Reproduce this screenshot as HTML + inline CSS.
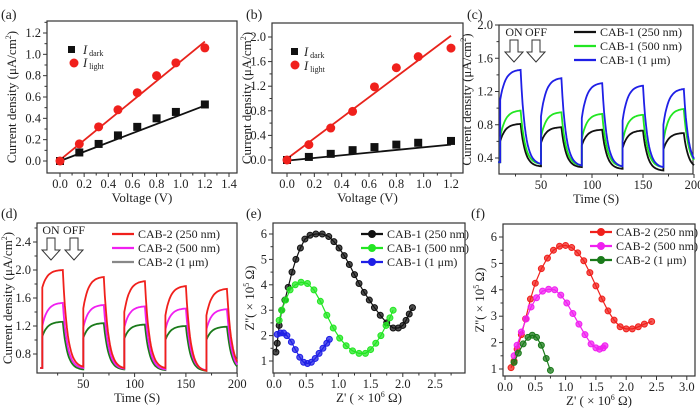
<!DOCTYPE html>
<html><head><meta charset="utf-8"><style>
html,body{margin:0;padding:0;background:#fff}
svg{display:block;font-family:"Liberation Serif",serif}
</style></head><body>
<svg id="fig" width="700" height="409" viewBox="0 0 700 409" xmlns="http://www.w3.org/2000/svg"></svg>
<script>
// ---- data ----
const voltA = [0,0.16,0.32,0.48,0.64,0.8,0.96,1.2];
const darkA = [0,0.08,0.16,0.24,0.32,0.40,0.46,0.53];
const lightA = [0,0.16,0.32,0.48,0.64,0.8,0.92,1.06];
const fitDarkA = [0,0.52];
const fitLightA = [0.01,1.12];
const voltB = [0,0.16,0.32,0.48,0.64,0.8,0.96,1.2];
const darkB = [0,0.05,0.1,0.16,0.21,0.25,0.28,0.31];
const lightB = [0,0.25,0.52,0.79,1.19,1.5,1.68,1.82];
const fitDarkB = [-0.01,0.25];
const fitLightB = [0.02,2.02];
const cycleOnTimes = [10,50,90,130,170];
// panel c per-cycle: on-start, on-end, off-end
const c250Start=[0.6,0.58,0.55,0.52,0.5], c250End=[0.81,0.77,0.74,0.73,0.70], c250Off=[0.3,0.29,0.27,0.25,0.27];
const c500Start=[0.65,0.65,0.63,0.6,0.6], c500End=[0.97,0.95,0.93,0.92,0.99], c500Off=[0.33,0.31,0.3,0.29,0.31];
const c1Start=[1.1,0.9,0.88,0.85,0.8], c1End=[1.46,1.36,1.30,1.27,1.23], c1Off=[0.33,0.31,0.3,0.29,0.3];
const c0=[0.35,0.35,0.35];
// panel d
const d250Start=[1.75,1.45,1.4,1.35,1.35], d250End=[2.0,1.9,1.84,1.77,1.73], d250Off=[0.62,0.6,0.6,0.56,0.58];
const d500Start=[1.2,1.18,1.18,1.15,1.15], d500End=[1.53,1.5,1.48,1.45,1.44], d500Off=[0.6,0.59,0.58,0.57,0.56];
const d1Start=[1.05,1.03,1.02,1.0,1.0], d1End=[1.26,1.24,1.22,1.2,1.19], d1Off=[0.58,0.58,0.57,0.56,0.56];
const d0=[0.6,0.6,0.6];
// panel e
const eBlackX=[0.03,0.05,0.08,0.12,0.17,0.22,0.28,0.34,0.41,0.48,0.56,0.65,0.75,0.85,0.93,1.01,1.09,1.17,1.25,1.32,1.40,1.48,1.56,1.65,1.75,1.85,1.93,2.0,2.05,2.1,2.15];
const eBlackY=[1.35,1.7,2.4,3.0,3.4,3.9,4.5,5.0,5.45,5.8,5.95,6.0,6.0,5.9,5.7,5.45,5.15,4.8,4.4,4.05,3.7,3.4,3.1,2.8,2.5,2.3,2.3,2.4,2.6,2.85,3.1];
const eGreenX=[0.08,0.12,0.18,0.25,0.33,0.42,0.52,0.62,0.72,0.82,0.92,1.02,1.12,1.22,1.32,1.42,1.50,1.58,1.66,1.74,1.80,1.85];
const eGreenY=[2.6,3.0,3.4,3.8,4.0,4.1,4.05,3.8,3.35,2.8,2.3,1.9,1.6,1.4,1.3,1.3,1.45,1.7,2.0,2.4,2.7,3.0];
const eBlueX=[0.05,0.1,0.15,0.2,0.27,0.33,0.4,0.46,0.52,0.58,0.64,0.7,0.76,0.82,0.86];
const eBlueY=[2.05,2.1,2.1,2.0,1.75,1.45,1.15,0.95,0.9,0.95,1.1,1.3,1.5,1.7,1.85];
// panel f
const fRedX=[0.1,0.15,0.2,0.27,0.34,0.42,0.5,0.6,0.7,0.8,0.9,1.0,1.1,1.2,1.3,1.4,1.5,1.6,1.7,1.8,1.9,2.0,2.1,2.2,2.3,2.42];
const fRedY=[1.05,1.3,1.75,2.3,2.9,3.65,4.25,4.8,5.2,5.5,5.65,5.68,5.6,5.4,5.1,4.65,4.15,3.65,3.2,2.85,2.6,2.52,2.52,2.6,2.7,2.8];
const fMagX=[0.15,0.2,0.27,0.35,0.43,0.52,0.62,0.72,0.82,0.92,1.02,1.12,1.22,1.32,1.42,1.5,1.56,1.62,1.65];
const fMagY=[1.5,1.9,2.4,2.9,3.35,3.7,3.95,4.02,4.0,3.8,3.5,3.1,2.7,2.3,1.95,1.8,1.75,1.8,1.88];
const fGreenX=[0.15,0.22,0.3,0.38,0.45,0.52,0.6,0.68,0.75];
const fGreenY=[1.25,1.6,1.95,2.2,2.28,2.2,1.9,1.4,0.95];

const NS="http://www.w3.org/2000/svg";
const svg=document.getElementById('fig');
function el(tag,attrs,parent,text){const e=document.createElementNS(NS,tag);for(const k in attrs)e.setAttribute(k,attrs[k]);if(text!==undefined)e.textContent=text;(parent||svg).appendChild(e);return e;}
function lin(d0,d1,p0,p1){return v=>p0+(v-d0)*(p1-p0)/(d1-d0);}

function panel(name,box,sx,sy,xt,yt,xminor,yminor,xtitle,ytitle,letter,letterPos){
  const g=el('g',{});
  
  
  const [L,T,R,B]=box;
  const r=el('rect',{x:L,y:T,width:R-L,height:B-T,fill:'none',stroke:'#333','stroke-width':1.2},g);
  
  const xa=el('g',{},g);
  xt.forEach(t=>{const x=sx(t.v);if(x<L-1||x>R+1)return;el('line',{x1:x,x2:x,y1:B,y2:B+4,stroke:'#333'},xa);
    const tx=el('text',{x:x,y:B+15,'font-size':12.5,'text-anchor':'middle',fill:'#222'},xa,t.l);});
  xminor.forEach(v=>{const x=sx(v);if(x<L||x>R)return;el('line',{x1:x,x2:x,y1:B,y2:B+2.5,stroke:'#333'},xa);});
  const ya=el('g',{},g);
  yt.forEach(t=>{const y=sy(t.v);if(y<T-1||y>B+1)return;el('line',{x1:L,x2:L-4,y1:y,y2:y,stroke:'#333'},ya);
    const tx=el('text',{x:L-6,y:y+4,'font-size':12.5,'text-anchor':'end',fill:'#222'},ya,t.l);});
  yminor.forEach(v=>{const y=sy(v);if(y<T||y>B)return;el('line',{x1:L,x2:L-2.5,y1:y,y2:y,stroke:'#333'},ya);});
  const xtl=el('text',{x:(L+R)/2,y:B+29,'font-size':13,'text-anchor':'middle',fill:'#222'},g);xtl.innerHTML=xtitle;
  
  const cy=(T+B)/2, cx=ytitle.x;
  const ytl=el('text',{x:cx,y:cy,'font-size':13,'text-anchor':'middle',fill:'#222',transform:`rotate(-90 ${cx} ${cy})`},g);ytl.innerHTML=ytitle.t;
  
  const lt=el('text',{x:letterPos[0],y:letterPos[1],'font-size':14,fill:'#222'},g,letter);
  
  return g;
}
function ticks(a,b,s,dec){const r=[];for(let v=a;v<=b+1e-9;v+=s)r.push({v:+v.toFixed(6),l:v.toFixed(dec)});return r;}
function rng(a,b,s){const r=[];for(let v=a;v<=b+1e-9;v+=s)r.push(+v.toFixed(6));return r;}
const YT_CD='Current density (μA/cm<tspan dy="-5" font-size="8">2</tspan><tspan dy="5">)</tspan>';

// ---- Panel A ----
{const sx=lin(0,1.4,60,229), sy=lin(0,1.2,161,33);
 const g=panel('panel-a',[47,21,237,173],sx,sy,ticks(0,1.4,0.2,1),ticks(0,1.2,0.2,1),rng(0.1,1.3,0.2),rng(0.1,1.3,0.2),'Voltage (V)',{x:16,t:YT_CD},'(a)',[1,19]);
 el('line',{x1:sx(0),y1:sy(fitLightA[0]),x2:sx(1.2),y2:sy(fitLightA[1]),stroke:'#e8231c','stroke-width':1.8},g);
 el('line',{x1:sx(0),y1:sy(fitDarkA[0]),x2:sx(1.2),y2:sy(fitDarkA[1]),stroke:'#111','stroke-width':1.8},g);
 voltA.forEach((v,i)=>{const m=el('rect',{x:sx(v)-4,y:sy(darkA[i])-4,width:8,height:8,fill:'#111'},g);});
 voltA.forEach((v,i)=>{const m=el('circle',{cx:sx(v),cy:sy(lightA[i]),r:4.5,fill:'#f0201c'},g);});
 el('rect',{x:68,y:46,width:7,height:7,fill:'#111'},g);el('circle',{cx:74,cy:63,r:4.5,fill:'#f0201c'},g);
 const t1=el('text',{x:83,y:54,'font-size':12.5,fill:'#222'},g);t1.innerHTML='<tspan font-style="italic">I</tspan><tspan font-size="8" dx="2" dy="2">dark</tspan>';
 const t2=el('text',{x:83,y:67,'font-size':12.5,fill:'#222'},g);t2.innerHTML='<tspan font-style="italic">I</tspan><tspan font-size="8" dx="2" dy="2">light</tspan>';
}
// ---- Panel B ----
{const sx=lin(0,1.2,287,451), sy=lin(0,2.0,160,37);
 const g=panel('panel-b',[272,23,463,173],sx,sy,ticks(0,1.2,0.2,1),ticks(0,2.0,0.4,1),rng(0.1,1.3,0.2),rng(0.2,2.0,0.4),'Voltage (V)',{x:251,t:YT_CD},'(b)',[246,19]);
 el('line',{x1:sx(0),y1:sy(fitLightB[0]),x2:sx(1.2),y2:sy(fitLightB[1]),stroke:'#e8231c','stroke-width':1.8},g);
 el('line',{x1:sx(0),y1:sy(fitDarkB[0]),x2:sx(1.2),y2:sy(fitDarkB[1]),stroke:'#111','stroke-width':1.8},g);
 voltB.forEach((v,i)=>{const m=el('rect',{x:sx(v)-4,y:sy(darkB[i])-4,width:8,height:8,fill:'#111'},g);});
 voltB.forEach((v,i)=>{const m=el('circle',{cx:sx(v),cy:sy(lightB[i]),r:4.5,fill:'#f0201c'},g);});
 el('rect',{x:291,y:48,width:7,height:7,fill:'#111'},g);el('circle',{cx:295,cy:65,r:4.5,fill:'#f0201c'},g);
 const t1=el('text',{x:304,y:56,'font-size':12.5,fill:'#222'},g);t1.innerHTML='<tspan font-style="italic">I</tspan><tspan font-size="8" dx="2" dy="2">dark</tspan>';
 const t2=el('text',{x:304,y:70,'font-size':12.5,fill:'#222'},g);t2.innerHTML='<tspan font-style="italic">I</tspan><tspan font-size="8" dx="2" dy="2">light</tspan>';
}
function transient(sx,sy,base,st,en,off,tmax){
  const pts=[[sx(cycleOnTimes[0]-2),sy(base)]];
  cycleOnTimes.forEach((t0,i)=>{
    pts.push([sx(t0),sy(i?off[i-1]:base)]);
    for(let k=0;k<=20;k++){const f=(1-Math.exp(-k/5))/(1-Math.exp(-4));pts.push([sx(t0+k),sy(st[i]+(en[i]-st[i])*f)]);}
    for(let k=0;k<=20;k++){if(t0+20+k>tmax)break;const e=Math.exp(-k/4.5),e20=Math.exp(-20/4.5);const f=(e-e20)/(1-e20);pts.push([sx(t0+20+k),sy(off[i]+(en[i]-off[i])*f)]);}
  });
  return pts.map((p,i)=>(i?'L':'M')+p[0].toFixed(1)+' '+p[1].toFixed(1)).join(' ');
}
function arrowsOnOff(g,x1,x2,y){
  [[x1,'ON'],[x2,'OFF']].forEach(([x,l])=>{
    const t=el('text',{x:x,y:y,'font-size':12,'text-anchor':'middle',fill:'#222'},g,l);
    const a=el('path',{d:`M${x-4} ${y+4} L${x+4} ${y+4} L${x+4} ${y+16} L${x+9} ${y+16} L${x} ${y+26} L${x-9} ${y+16} L${x-4} ${y+16} Z`,fill:'#fff',stroke:'#333','stroke-width':1},g);
    
  });
}
function lineLegend(g,x,y,items,marker){
  items.forEach(([c,l],i)=>{const yy=y+i*14;
    el('line',{x1:x,x2:x+22,y1:yy,y2:yy,stroke:c,'stroke-width':2.2},g);
    if(marker)el('circle',{cx:x+11,cy:yy,r:3.5,fill:c,stroke:c,'stroke-width':1},g);
    const t=el('text',{x:x+26,y:yy+4,'font-size':12,fill:'#222'},g,l);});
}
// ---- Panel C ----
{const sx=lin(0,50,490,541), sy=lin(2.0,0.4,25,158);
 const g=panel('panel-c',[499,25,693,174],sx,sy,ticks(50,200,50,0),ticks(0.4,2.0,0.4,1),rng(25,175,50),rng(0.6,1.8,0.4),'Time (S)',{x:471,t:YT_CD},'(c)',[467,19]);
 [[c250Start,c250End,c250Off,'#111','series-cab1-250nm'],[c500Start,c500End,c500Off,'#22e622','series-cab1-500nm'],[c1Start,c1End,c1Off,'#1f1fe6','series-cab1-1um']].forEach(([s,e,o,c,n],i)=>{
   const p=el('path',{d:transient(sx,sy,c0[i],s,e,o,200),fill:'none',stroke:c,'stroke-width':1.8},g);});
 arrowsOnOff(g,514,536,36);
 lineLegend(g,574,32,[['#111','CAB-1 (250 nm)'],['#22e622','CAB-1 (500 nm)'],['#1f1fe6','CAB-1 (1 μm)']],false);
}
// ---- Panel D ----
{const sx=lin(0,50,32,83.3), sy=lin(2.4,0.8,242,354);
 const g=panel('panel-d',[37,223,237,373],sx,sy,ticks(50,200,50,0),ticks(0.8,2.4,0.4,1),rng(25,175,50),rng(1.0,2.6,0.4),'Time (S)',{x:12,t:YT_CD},'(d)',[1,218]);
 [[d1Start,d1End,d1Off,'#1a7a1a','series-cab2-1um'],[d500Start,d500End,d500Off,'#f020f0','series-cab2-500nm'],[d250Start,d250End,d250Off,'#f0201c','series-cab2-250nm']].forEach(([s,e,o,c,n],i)=>{
   const p=el('path',{d:transient(sx,sy,d0[i],s,e,o,200),fill:'none',stroke:c,'stroke-width':1.8},g);});
 arrowsOnOff(g,51,74,234);
 lineLegend(g,112,234,[['#f0201c','CAB-2 (250 nm)'],['#f020f0','CAB-2 (500 nm)'],['#888','CAB-2 (1 μm)']],false);
}
function nyq(g,sx,sy,X,Y,c,n){
  const p=el('path',{d:X.map((x,i)=>(i?'L':'M')+sx(x).toFixed(1)+' '+sy(Y[i]).toFixed(1)).join(' '),fill:'none',stroke:c,'stroke-width':1.2},g);
  
  X.forEach((x,i)=>{const m=el('circle',{cx:sx(x),cy:sy(Y[i]),r:3,fill:c,stroke:c,'stroke-width':1,'fill-opacity':0.75},g);});
}
const ZX='Z\' ( × 10<tspan dy="-5" font-size="8">6</tspan><tspan dy="5"> Ω)</tspan>';
const ZY='Z\'\'( × 10<tspan dy="-5" font-size="8">5</tspan><tspan dy="5"> Ω)</tspan>';
// ---- Panel E ----
{const sx=lin(0,0.5,274,306.2), sy=lin(1,6,361,234);
 const g=panel('panel-e',[273,223,465,373],sx,sy,ticks(0,3.0,0.5,1),ticks(1,6,1,0),rng(0.25,2.75,0.5),rng(1.5,5.5,1),ZX,{x:254,t:ZY},'(e)',[246,218]);
 nyq(g,sx,sy,eBlackX,eBlackY,'#111','series-cab1-250nm');
 nyq(g,sx,sy,eGreenX,eGreenY,'#22e622','series-cab1-500nm');
 nyq(g,sx,sy,eBlueX,eBlueY,'#1f1fe6','series-cab1-1um');
 lineLegend(g,361,234,[['#111','CAB-1 (250 nm)'],['#22e622','CAB-1 (500 nm)'],['#1f1fe6','CAB-1 (1 μm)']],true);
}
// ---- Panel F ----
{const sx=lin(0,0.5,505,535.3), sy=lin(1,6,369,237);
 const g=panel('panel-f',[503,224,695,376],sx,sy,ticks(0,3.0,0.5,1),ticks(1,6,1,0),rng(0.25,2.75,0.5),rng(1.5,5.5,1),ZX,{x:484,t:ZY},'(f)',[471,218]);
 nyq(g,sx,sy,fRedX,fRedY,'#f0201c','series-cab2-250nm');
 nyq(g,sx,sy,fMagX,fMagY,'#f020f0','series-cab2-500nm');
 nyq(g,sx,sy,fGreenX,fGreenY,'#1a7a1a','series-cab2-1um');
 lineLegend(g,590,232,[['#f0201c','CAB-2 (250 nm)'],['#f020f0','CAB-2 (500 nm)'],['#1a7a1a','CAB-2 (1 μm)']],true);
}
</script>
</body></html>
